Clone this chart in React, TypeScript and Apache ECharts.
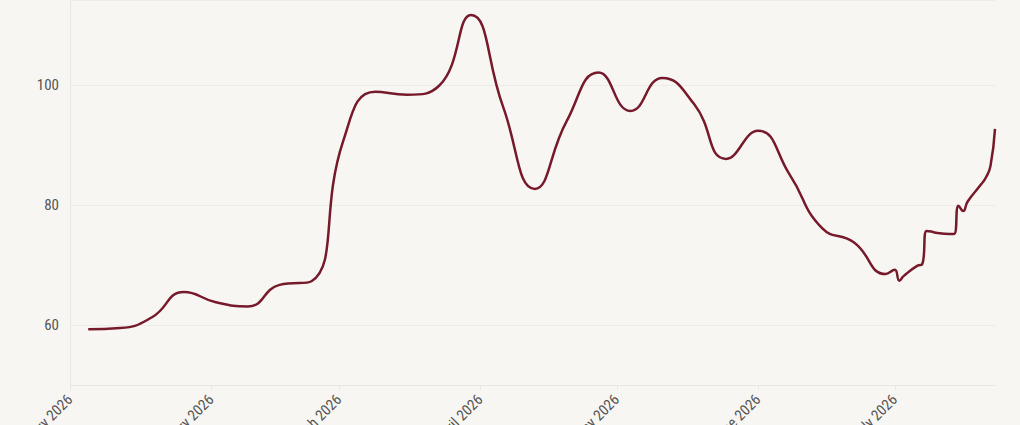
import { useEffect, useRef } from "react";
import * as echarts from "echarts";

// weekly readings, then daily in July
const dates = [
  "2026-01-05", "2026-01-12", "2026-01-19", "2026-01-26",
  "2026-02-02", "2026-02-09", "2026-02-16", "2026-02-23",
  "2026-03-02", "2026-03-09", "2026-03-16", "2026-03-23", "2026-03-30",
  "2026-04-06", "2026-04-13", "2026-04-20", "2026-04-27",
  "2026-05-04", "2026-05-11", "2026-05-18", "2026-05-25",
  "2026-06-01", "2026-06-08", "2026-06-15", "2026-06-22", "2026-06-29",
  "2026-07-01", "2026-07-02", "2026-07-03", "2026-07-06", "2026-07-07",
  "2026-07-08", "2026-07-09", "2026-07-10", "2026-07-13", "2026-07-14",
  "2026-07-15", "2026-07-16", "2026-07-17", "2026-07-20", "2026-07-21",
  "2026-07-22", "2026-07-23",
];

const values = [
  59.3, 59.5, 61.3, 65.5,
  63.8, 63.1, 66.7, 67.3,
  90.8, 98.9, 98.4, 99.9, 111.7,
  96.5, 82.7, 94.0, 102.1,
  95.7, 101.2, 96.8, 87.7,
  92.4, 85.0, 76.2, 73.8, 68.5,
  69.2, 67.4, 68.2, 69.9, 70.1,
  75.7, 75.6, 75.4, 75.2, 75.2,
  79.9, 79.0, 80.6, 83.5, 84.6,
  86.5, 92.7,
];

const monthNames = [
  "January", "February", "March", "April", "May", "June",
  "July", "August", "September", "October", "November", "December",
];

const yTicks = [60, 80, 100];

const DAY = 24 * 3600 * 1000;
const FONT = "'Roboto Condensed', 'Liberation Sans Narrow', 'Arial Narrow', Roboto, sans-serif";

export default function App() {
  const ref = useRef<HTMLDivElement | null>(null);

  useEffect(() => {
    document.body.style.margin = "0";
    document.body.style.background = "#f8f6f3";
    if (!ref.current) return;

    const chart = echarts.init(ref.current, null, { renderer: "svg" });

    chart.setOption({
      animation: false,
      backgroundColor: "#f8f6f3",
      grid: {
        left: 70,
        right: 25,
        top: 0,
        bottom: 40,
        containLabel: false,
        outerBoundsMode: "none",
      },
      xAxis: {
        type: "time",
        min: "2026-01-01",
        max: "dataMax",
        splitNumber: 7,
        minInterval: 28 * DAY,
        maxInterval: 31 * DAY,
        axisLine: { show: true, lineStyle: { color: "#ebe8e3", width: 1 } },
        axisTick: { show: true, length: 5, lineStyle: { color: "#ebe8e3" } },
        splitLine: { show: false },
        axisLabel: {
          rotate: 45,
          margin: 12,
          color: "#555555",
          fontSize: 15,
          fontFamily: FONT,
          hideOverlap: false,
          formatter: (v: number) => {
            const d = new Date(v);
            return `${monthNames[d.getMonth()]} ${d.getFullYear()}`;
          },
        },
      },
      yAxis: {
        type: "value",
        min: 50,
        max: 114.2,
        splitNumber: 3,
        axisLine: { show: true, lineStyle: { color: "#ebe8e3", width: 1 } },
        axisTick: { show: false },
        splitLine: { show: true, lineStyle: { color: "#efece8", width: 1 } },
        axisLabel: {
          margin: 11,
          color: "#555555",
          fontSize: 15,
          fontFamily: FONT,
          showMinLabel: false,
          showMaxLabel: false,
          formatter: (v: number) => (yTicks.includes(v) ? String(v) : ""),
        },
      },
      series: [
        {
          type: "line",
          smooth: 0.5,
          symbol: "none",
          lineStyle: { color: "#761a2b", width: 2.5 },
          data: dates.map((d, i) => [d, values[i]]),
        },
      ],
    });

    return () => {
      chart.dispose();
    };
  }, []);

  return <div ref={ref} style={{ width: 1020, height: 425 }} />;
}
